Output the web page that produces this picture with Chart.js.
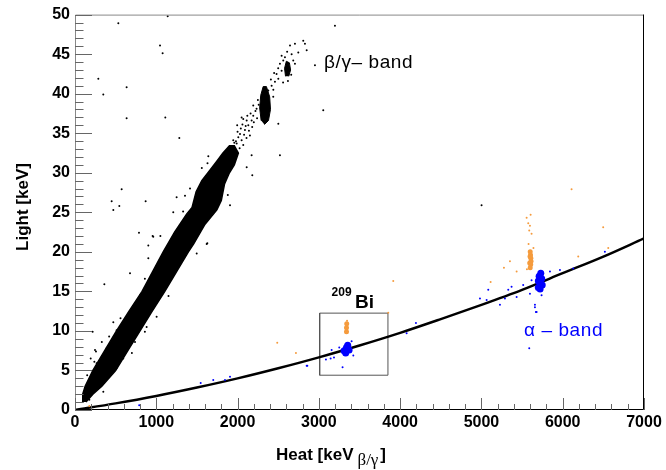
<!DOCTYPE html>
<html>
<head>
<meta charset="utf-8">
<script src="https://cdn.jsdelivr.net/npm/chart.js@4.4.1/dist/chart.umd.min.js"></script>
<style>
  html, body { margin: 0; padding: 0; background: #fff; }
  #plot { display: block; }
</style>
</head>
<body>
<canvas id="plot" width="666" height="470"></canvas>
<script>
// axis ticks
const heatTicks = [0, 1000, 2000, 3000, 4000, 5000, 6000, 7000];
const lightTicks = [0, 5, 10, 15, 20, 25, 30, 35, 40, 45, 50];

// alpha band fit (heat keV, light keV)
const alphaFit = [[0, 0], [500, 0.84], [1000, 1.78], [1500, 2.84], [2000, 4.0], [2500, 5.28],
  [3000, 6.66], [3500, 8.16], [4000, 9.76], [4500, 11.5], [5000, 13.3], [5500, 15.2],
  [6000, 17.3], [6500, 19.4], [7000, 21.7]];

// dense part of the beta/gamma band, outline
const betaBandOutline = [[88, 1.0], [95, 2.0], [125, 3.0], [220, 5.0], [365, 7.5], [510, 10.0],
  [665, 12.5], [825, 15.0], [955, 17.5], [1085, 20.0], [1225, 22.5], [1375, 24.8], [1440, 25.6],
  [1490, 27.6], [1560, 29.0], [1650, 30.2], [1740, 31.4], [1820, 32.5], [1900, 33.4],
  [1960, 33.4], [2010, 32.5], [1960, 31.0], [1900, 30.0], [1840, 28.6], [1800, 26.5], [1745, 25.3],
  [1600, 23.5], [1460, 21.0], [1395, 20.0], [1250, 17.5], [1105, 15.0], [950, 12.5], [800, 10.0],
  [650, 7.5], [500, 5.0], [330, 3.0], [220, 2.0], [135, 1.0]];
const betaUpperCluster = [[2290, 36.6], [2272, 38.2], [2285, 39.8], [2315, 40.9], [2355, 40.9],
  [2395, 39.6], [2405, 38.0], [2380, 36.6], [2330, 36.1]];
const betaTopCluster = [[2590, 42.2], [2578, 43.2], [2600, 44.1], [2638, 43.9], [2652, 43.0], [2630, 42.2]];

// sparse black events
const betaScatter = [[533, 48.9], [1140, 49.8], [287, 41.9], [348, 39.9], [635, 40.8], [1046, 46.1],
  [1078, 45.1], [635, 36.9], [1111, 37.0], [1283, 34.4], [574, 27.9], [1250, 26.9], [3198, 48.6],
  [3054, 37.9], [2952, 43.6], [2501, 36.2], [2521, 32.2], [2173, 32.2], [2181, 29.7], [1640, 32.1],
  [2050, 37.0], [451, 26.4], [471, 25.3], [545, 25.8], [869, 26.4], [787, 22.4], [955, 22.0],
  [902, 20.8], [677, 17.3], [361, 15.9], [217, 9.9], [258, 7.4], [238, 6.1], [1628, 21.1],
  [1497, 19.8], [1907, 25.9], [1209, 25.0], [1415, 28.0], [1353, 27.1], [963, 21.9], [902, 19.2],
  [1620, 21.0], [2112, 30.7], [5002, 25.9],
  [471, 11.1], [246, 7.6], [193, 6.5], [963, 14.1], [1107, 15.8], [1004, 11.8], [881, 10.5],
  [738, 8.6], [594, 6.5], [176, 1.3], [348, 2.3], [512, 5.3], [266, 5.9], [389, 7.8], [512, 10.1],
  [697, 12.8], [800, 14.5], [860, 16.6], [1150, 14.4], [1300, 21.5], [1050, 22.0], [1520, 24.0],
  [1330, 25.1], [1700, 28.3], [1880, 27.2], [1560, 30.6], [1630, 31.2], [420, 9.3], [700, 7.2],
  [150, 4.4], [330, 8.6], [560, 11.6], [860, 9.9], [1190, 18.6], [980, 16.2],
  [1845, 32.0], [1907, 32.4], [1968, 32.8], [1886, 33.0], [1989, 33.7], [2050, 34.1], [2030, 34.9],
  [2091, 35.4], [2132, 36.0], [2173, 36.6], [2112, 36.6], [2193, 37.2], [2234, 38.1], [2193, 38.5],
  [1947, 34.1], [2070, 33.5], [1927, 31.6], [2009, 34.5], [2152, 34.7], [1980, 34.0], [2000, 35.2],
  [2040, 35.6], [2060, 36.1], [2100, 35.9], [2110, 34.4], [2140, 35.3], [2160, 37.5], [2200, 36.4],
  [2220, 37.8], [2240, 36.9], [2250, 39.2], [2025, 33.1], [1960, 33.8], [2080, 34.8], [2120, 37.2],
  [2180, 35.8], [2260, 38.6], [1995, 36.0], [2070, 36.8],
  [2419, 41.0], [2460, 41.5], [2501, 41.9], [2480, 42.5], [2542, 42.9], [2521, 43.8], [2562, 44.2],
  [2583, 44.6], [2542, 44.8], [2665, 45.0], [2685, 44.2], [2706, 43.8], [2645, 46.1], [2706, 46.3],
  [2808, 46.7], [2829, 46.3], [2850, 45.5], [2747, 45.2], [2378, 40.4], [2439, 39.6], [2410, 41.8],
  [2450, 42.6], [2500, 43.2], [2560, 41.4], [2610, 45.3], [2620, 41.6], [2660, 42.4], [2440, 40.5]];

// alpha events (blue)
const alphaCore = [[3310, 7.5], [3340, 7.9], [3372, 7.6], [3330, 7.2], [3355, 8.2], [3345, 7.7],
  [5700, 15.5], [5722, 16.0], [5742, 16.6], [5710, 16.9], [5730, 17.3], [5700, 16.3], [5748, 15.8],
  [5722, 15.3]];
const alphaScatter = [[2858, 5.6], [1907, 4.2], [1701, 3.8], [1546, 3.4], [1845, 3.8], [790, 0.6],
  [2850, 5.6], [3292, 5.4], [3087, 6.4], [3145, 6.5], [3186, 6.65], [3403, 8.7], [3424, 6.9],
  [3157, 7.6], [3251, 7.9], [4080, 9.7], [4194, 11.0],
  [4982, 14.1], [5064, 13.9], [5330, 15.2], [5371, 15.6], [5289, 14.1], [5514, 15.8], [5617, 16.4],
  [5597, 14.7], [5658, 13.0], [5679, 12.4], [5843, 17.5], [5966, 17.7], [6129, 17.9], [6519, 20.0],
  [5740, 14.5], [5228, 13.3], [5084, 15.2], [5433, 14.3], [5658, 13.3], [5670, 12.4], [5588, 7.8]];

// events above the alpha band (orange)
const orangeCore = [[3340, 9.9], [3340, 10.4], [3343, 10.9],
  [5600, 18.0], [5606, 18.4], [5610, 18.8], [5608, 19.2], [5604, 19.6], [5600, 20.0], [5594, 18.6],
  [5598, 19.4]];
const orangeScatter = [[2488, 8.5], [2718, 7.2], [176, 0.5], [3915, 16.3], [3854, 12.3],
  [6109, 27.9], [6498, 23.1], [6560, 20.5], [6191, 19.4], [5351, 18.8], [5277, 18.0], [5433, 17.5],
  [5113, 16.2], [5605, 24.7], [5556, 24.3], [5576, 23.6], [5597, 23.3], [5588, 22.7], [5617, 22.3],
  [3347, 11.3], [5560, 17.8], [5640, 20.5], [5580, 21.0]];

// 209Bi selection box
const biBox = [[3010, 4.4], [3850, 4.4], [3850, 12.25], [3010, 12.25], [3010, 4.4]];

// text labels: [heat, light] anchor of the left baseline
const labelBetaBand = [3063, 43.2];
const labelAlphaBand = [5523, 9.35];
const labelBiMass = [3157, 14.4];
const labelBiName = [3444, 12.94];

const pts = arr => arr.map(p => ({ x: p[0], y: p[1] }));
const sans = '"Liberation Sans", Arial, Helvetica, sans-serif';
const blue = '#0000ff';
const orange = '#f59b3d';

const rootFrame = {
  id: 'rootFrame',
  afterDraw(chart) {
    const ctx = chart.ctx;
    const xs = chart.scales.x, ys = chart.scales.y;
    const a = chart.chartArea;
    ctx.save();
    // frame
    ctx.lineWidth = 1;
    ctx.strokeStyle = '#888';
    ctx.beginPath();
    ctx.moveTo(a.left + 0.5, a.bottom); ctx.lineTo(a.left + 0.5, a.top + 0.5);
    ctx.lineTo(a.right, a.top + 0.5);
    ctx.stroke();
    ctx.strokeStyle = '#000';
    ctx.beginPath();
    ctx.moveTo(a.right - 0.5, a.top); ctx.lineTo(a.right - 0.5, a.bottom - 0.5);
    ctx.lineTo(a.left, a.bottom - 0.5);
    ctx.stroke();
    // inward ticks
    ctx.strokeStyle = '#666';
    ctx.beginPath();
    for (let v = 0; v <= 7000; v += 200) {
      const px = Math.round(xs.getPixelForValue(v)) + 0.5;
      const len = heatTicks.includes(v) ? 12 : 6;
      ctx.moveTo(px, a.bottom); ctx.lineTo(px, a.bottom - len);
    }
    for (let v = 0; v <= 50; v += 1) {
      const py = Math.round(ys.getPixelForValue(v)) + 0.5;
      const len = lightTicks.includes(v) ? 17 : 8.5;
      ctx.moveTo(a.left, py); ctx.lineTo(a.left + len, py);
    }
    ctx.stroke();

    // axis titles
    ctx.fillStyle = '#000';
    ctx.textBaseline = 'alphabetic';
    ctx.font = 'bold 17px ' + sans;
    ctx.save();
    ctx.translate(28, 207);
    ctx.rotate(-Math.PI / 2);
    ctx.textAlign = 'center';
    ctx.fillText('Light [keV]', 0, 0);
    ctx.restore();
    ctx.textAlign = 'left';
    let x0 = 276;
    ctx.fillText('Heat [keV', x0, 460);
    x0 += ctx.measureText('Heat [keV').width + 4;
    ctx.font = '17px "Liberation Serif", "Times New Roman", serif';
    ctx.fillText('β/γ', x0, 465);
    x0 += ctx.measureText('β/γ').width + 2;
    ctx.font = 'bold 17px ' + sans;
    ctx.fillText(']', x0, 460);

    // annotations
    ctx.font = '19px ' + sans;
    ctx.letterSpacing = '0.6px';
    ctx.fillText('β/γ– band', xs.getPixelForValue(labelBetaBand[0]), ys.getPixelForValue(labelBetaBand[1]));
    ctx.fillStyle = blue;
    ctx.fillText('α – band', xs.getPixelForValue(labelAlphaBand[0]), ys.getPixelForValue(labelAlphaBand[1]));
    ctx.letterSpacing = '0px';
    ctx.fillStyle = '#000';
    ctx.font = 'bold 12px ' + sans;
    ctx.fillText('209', xs.getPixelForValue(labelBiMass[0]), ys.getPixelForValue(labelBiMass[1]));
    ctx.font = 'bold 19px ' + sans;
    ctx.fillText('Bi', xs.getPixelForValue(labelBiName[0]), ys.getPixelForValue(labelBiName[1]));
    ctx.restore();
  }
};

const dotSet = (data, color, radius) => ({
  data: pts(data), showLine: false, pointRadius: radius, pointHoverRadius: radius,
  pointBorderWidth: 0, pointBackgroundColor: color, pointBorderColor: color
});

new Chart(document.getElementById('plot'), {
  type: 'line',
  data: {
    datasets: [
      dotSet(alphaCore, blue, 3.5),
      dotSet(alphaScatter, blue, 1),
      dotSet(orangeCore, orange, 2.5),
      dotSet(orangeScatter, orange, 1),
      {
        data: pts(alphaFit), borderColor: '#000', borderWidth: 2.5, pointRadius: 0,
        cubicInterpolationMode: 'monotone', fill: false
      },
      {
        data: pts(biBox), borderColor: '#555', borderWidth: 1, pointRadius: 0, tension: 0, fill: false
      },
      {
        data: pts(betaBandOutline), borderColor: '#000', backgroundColor: '#000', borderWidth: 1.5,
        pointRadius: 0, tension: 0, fill: 'shape'
      },
      {
        data: pts(betaUpperCluster), borderColor: '#000', backgroundColor: '#000', borderWidth: 1,
        pointRadius: 0, tension: 0, fill: 'shape'
      },
      {
        data: pts(betaTopCluster), borderColor: '#000', backgroundColor: '#000', borderWidth: 1,
        pointRadius: 0, tension: 0, fill: 'shape'
      },
      dotSet(betaScatter, '#000', 1)
    ]
  },
  options: {
    responsive: false,
    animation: false,
    devicePixelRatio: 1,
    events: [],
    layout: { padding: { top: 14, right: 22, left: 0, bottom: 0 } },
    plugins: { legend: { display: false }, tooltip: { enabled: false } },
    scales: {
      x: {
        type: 'linear', min: 0, max: 7000,
        grid: { display: false, drawTicks: false },
        border: { display: false },
        afterBuildTicks: s => { s.ticks = heatTicks.map(v => ({ value: v })); },
        afterFit: s => { s.height = 60; },
        ticks: {
          autoSkip: false, maxRotation: 0, padding: 3, color: '#000',
          callback: v => String(v),
          font: { family: sans, size: 16, weight: 'bold' }
        }
      },
      y: {
        type: 'linear', min: 0, max: 50,
        grid: { display: false, drawTicks: false },
        border: { display: false },
        afterBuildTicks: s => { s.ticks = lightTicks.map(v => ({ value: v })); },
        afterFit: s => { s.width = 75; },
        ticks: {
          autoSkip: false, padding: 5, color: '#000',
          callback: v => String(v),
          font: { family: sans, size: 16, weight: 'bold' }
        }
      }
    }
  },
  plugins: [rootFrame]
});
</script>
</body>
</html>
